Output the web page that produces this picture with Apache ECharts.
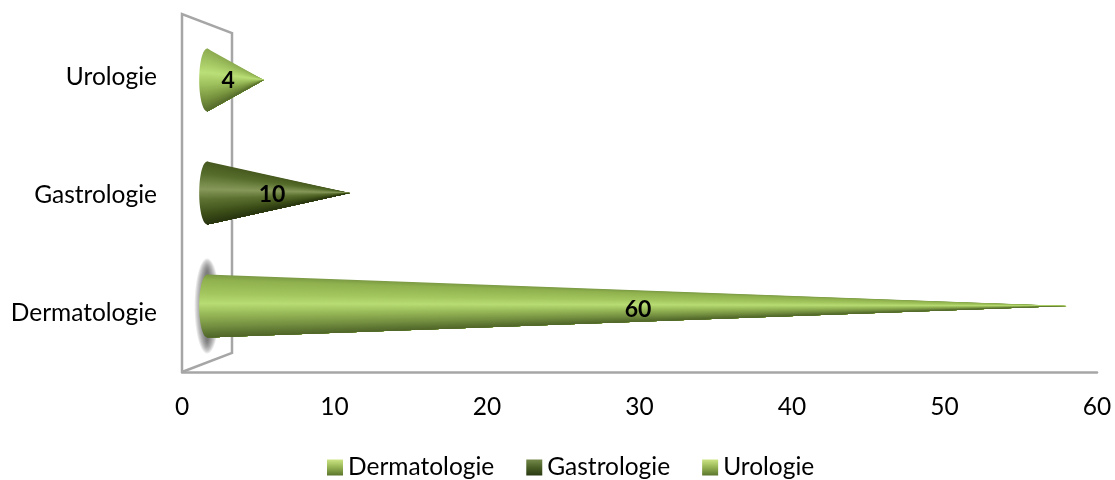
<!DOCTYPE html>
<html><head><meta charset="utf-8">
<style>html,body{margin:0;padding:0;background:#fff}#c{width:1115px;height:480px}</style>
<script src="https://cdn.jsdelivr.net/npm/echarts@6/dist/echarts.min.js"></script>
</head><body><div id="c"></div>
<script>
const categories = ['Dermatologie', 'Gastrologie', 'Urologie'];
const seriesNames = ['Dermatologie', 'Gastrologie', 'Urologie'];
const values = [60, 10, 4];
const xTicks = {min: 0, max: 60, interval: 10};

const FONT = 'Lato';
const shades = {
  Dermatologie: [[0,'#7a9844'],[0.08,'#8fb04e'],[0.3,'#a3c65f'],[0.46,'#b8dc74'],[0.62,'#99ba59'],[0.82,'#748f41'],[1,'#4f6529']],
  Gastrologie: [[0,'#47591f'],[0.2,'#566d2c'],[0.44,'#87995a'],[0.6,'#5d7232'],[0.82,'#3e5019'],[1,'#283410']],
  Urologie: [[0,'#8cab50'],[0.2,'#a3c562'],[0.38,'#bbdf78'],[0.58,'#9dbf5c'],[0.8,'#78943f'],[1,'#546b2c']]
};
const legendFill = {
  Dermatologie: ['#cde584','#94b252','#5a752c'],
  Gastrologie: ['#74894a','#4a5f26','#2a3912'],
  Urologie: ['#cde584','#94b252','#5a752c']
};
function hex(c){return [1,3,5].map(i=>parseInt(c.substr(i,2),16));}
function shadeAt(stops,t){
  for(let i=1;i<stops.length;i++){
    if(t<=stops[i][0]){
      const a=stops[i-1],b=stops[i],k=(t-a[0])/(b[0]-a[0]);
      const A=hex(a[1]),B=hex(b[1]);
      return 'rgb('+A.map((v,j)=>Math.round(v+(B[j]-v)*k)).join(',')+')';
    }
  }
  return stops[stops.length-1][1];
}
// Depth projection of the 3D scene onto the axes
const projX = v => 1.6 + 0.94*v;
const labelX = v => 1.1 + 0.48*v;
function coneRender(name, withGlow){
  return function(params, api){
    const v = api.value(0), idx = api.value(1);
    const midY = api.coord([0,1])[1];
    const rawY = api.coord([0,idx])[1];
    const cy = midY + (rawY-midY)*0.9576 - 2;
    const ly = midY + (rawY-midY)*0.97;
    const tip = api.coord([projX(v),idx])[0];
    const cx = api.coord([1.65,idx])[0];
    const ry = 31.5, rx = 8;
    const children = [];
    if(withGlow){
      // soft shadow: stacked translucent ellipses fading outward
      for(let k=0;k<10;k++){
        children.push({type:'ellipse',shape:{cx:cx,cy:cy,rx:12.5-k,ry:47.5-k*1.3},
          style:{fill:'rgba(85,85,85,0.12)'},z2:1});
      }
    }
    const stops = shades[name];
    const stopsCss = stops.map(s=>({offset:s[0],color:s[1]}));
    children.push({type:'ellipse',shape:{cx:cx,cy:cy,rx:rx,ry:ry},
      style:{fill:new echarts.graphic.LinearGradient(0,0,0,1,stopsCss)},z2:2});
    const N=60;
    for(let i=0;i<N;i++){
      const t0=i/N;
      const col=shadeAt(stops,(i+0.5)/N);
      // each layer reaches the lower edge, so the next one paints over it without seams
      children.push({type:'polygon',shape:{points:[[cx,cy-ry+2*ry*t0],[cx,cy+ry],[tip,cy]]},
        style:{fill:col},z2:3+i*0.01});
    }
    children.push({type:'text',x:api.coord([labelX(v),idx])[0],y:ly,
      style:{text:String(v),font:'bold 23px '+FONT,fill:'#000',align:'center',verticalAlign:'middle'},z2:10});
    return {type:'group',children:children};
  };
}
function wallRender(params){
  const s=params.coordSys, dx=50, dy=19, L=s.x, T=s.y-4, B=s.y+s.height;
  return {type:'polyline',silent:true,
    shape:{points:[[L,B],[L+dx,B-dy],[L+dx,T+dy],[L,T],[L,B]]},
    style:{fill:'none',stroke:'#a6a6a6',lineWidth:2.5}};
}
const coneSeries = seriesNames.map((n,i)=>({
  type:'custom',name:n,coordinateSystem:'cartesian2d',clip:false,silent:true,z:3+(i===0?0:1),
  renderItem:coneRender(n,i===0),
  itemStyle:{color:new echarts.graphic.LinearGradient(0,0,0,1,[{offset:0,color:legendFill[n][0]},{offset:0.5,color:legendFill[n][1]},{offset:1,color:legendFill[n][2]}])},
  encode:{x:0,y:1},
  data:[[values[i],i]]
}));
const chart = echarts.init(document.getElementById('c'),null,{renderer:'canvas'});
chart.setOption({
  animation:false,
  backgroundColor:'#fff',
  grid:{left:182,right:18,top:18,height:354,containLabel:false},
  legend:{data:seriesNames,left:322,top:450,icon:'rect',itemWidth:16,itemHeight:16,itemGap:32,
    textStyle:{fontFamily:FONT,fontSize:24.5,color:'#000'}},
  xAxis:{type:'value',min:xTicks.min,max:xTicks.max,interval:xTicks.interval,
    axisLine:{show:true,lineStyle:{color:'#a6a6a6',width:2.5}},axisTick:{show:false},splitLine:{show:false},
    axisLabel:{fontFamily:FONT,fontSize:24.5,color:'#000',margin:23}},
  yAxis:{type:'category',data:categories,
    axisLine:{show:false},axisTick:{show:false},splitLine:{show:false},
    axisLabel:{fontFamily:FONT,fontSize:24.5,color:'#000',margin:25}},
  series:[{type:'custom',name:'wall',coordinateSystem:'cartesian2d',silent:true,z:1,clip:false,renderItem:wallRender,data:[[0,0]]}].concat(coneSeries)
});
</script></body></html>
